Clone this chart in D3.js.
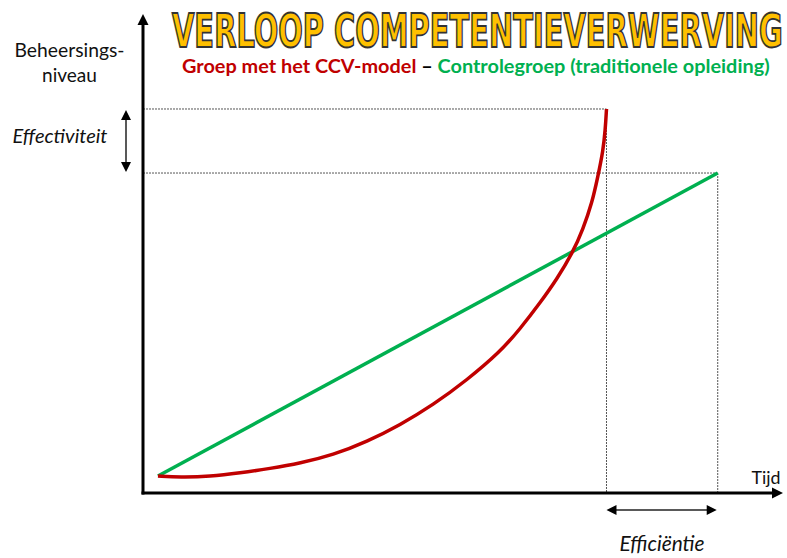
<!DOCTYPE html>
<html>
<head>
<meta charset="utf-8">
<script src="https://cdn.jsdelivr.net/npm/d3@7"></script>
<style>
  body { margin: 0; background: #fff; }
  svg { display: block; }
</style>
</head>
<body>
<div id="chart"></div>
<script>
// curve of the CCV group (tijd, beheersingsniveau) in % of the axis
var ccvTime  = [2.34, 5.78, 10.47, 15.16, 19.84, 24.53, 29.69, 35.0, 40.16, 45.31, 50.63, 55.78, 58.91,
                62.03, 64.69, 67.19, 68.75, 70.16, 71.09, 71.88, 72.23, 72.42, 72.42];
var ccvLevel = [3.55, 3.28, 3.44, 4.18, 5.11, 6.20, 7.93, 10.71, 14.20, 18.37, 23.59, 29.44, 34.24,
                39.67, 44.68, 50.31, 55.11, 60.54, 66.18, 71.40, 75.78, 80.17, 80.17];
// straight line of the control group
var controlTime  = [2.34, 89.8];
var controlLevel = [3.55, 66.8];

var titleText = "VERLOOP COMPETENTIEVERWERVING";
var subtitleParts = [
  {text: "Groep met het CCV-model", color: "#C00000"},
  {text: " \u2013 ", color: "#000000"},
  {text: "Controlegroep (traditionele opleiding)", color: "#00B050"}
];

var W = 787, H = 558;
var red = "#C00000", green = "#00B050";
var font = "Lato, 'Open Sans', sans-serif";

var svg = d3.select("#chart").append("svg")
    .attr("width", W)
    .attr("height", H);

var x = d3.scaleLinear().domain([0, 100]).range([143, 783]);
var y = d3.scaleLinear().domain([0, 100]).range([493, 14]);

var ccv = ccvTime.map(function(t, i) { return [t, ccvLevel[i]]; });
var control = controlTime.map(function(t, i) { return [t, controlLevel[i]]; });
var ccvEnd = ccv[ccv.length - 1];
var controlEnd = control[control.length - 1];

// scale a text's font size so it takes the wanted width
function fit(t, target) {
  var w = t.node().getComputedTextLength();
  t.attr("font-size", +t.attr("font-size") * target / w);
  return t;
}

// dotted guide lines
var guides = [
  [[0, ccvEnd[1]], ccvEnd],
  [[0, controlEnd[1]], controlEnd],
  [ccvEnd, [ccvEnd[0], 0]],
  [controlEnd, [controlEnd[0], 0]]
];
svg.append("g").selectAll("line")
  .data(guides)
  .enter().append("line")
    .attr("x1", function(d) { return x(d[0][0]); })
    .attr("y1", function(d) { return y(d[0][1]); })
    .attr("x2", function(d) { return x(d[1][0]); })
    .attr("y2", function(d) { return y(d[1][1]); })
    .attr("stroke", "#555")
    .attr("stroke-width", 1)
    .attr("stroke-dasharray", "2,1");

// axes with arrowheads
var axisG = svg.append("g");
axisG.append("line")
    .attr("x1", x(0)).attr("y1", y(0) + 1.5)
    .attr("x2", x(0)).attr("y2", y(100) + 9)
    .attr("stroke", "#000").attr("stroke-width", 3);
axisG.append("line")
    .attr("x1", x(0) - 1.5).attr("y1", y(0))
    .attr("x2", x(100) - 9).attr("y2", y(0))
    .attr("stroke", "#000").attr("stroke-width", 3);
axisG.append("path")
    .attr("d", "M" + x(0) + "," + y(100) + "l5.5,11h-11z")
    .attr("fill", "#000");
axisG.append("path")
    .attr("d", "M" + x(100) + "," + y(0) + "l-11,-5.5v11z")
    .attr("fill", "#000");

// curves
var line = d3.line()
    .x(function(d) { return x(d[0]); })
    .y(function(d) { return y(d[1]); });

svg.append("path")
    .datum(control)
    .attr("d", line)
    .attr("fill", "none")
    .attr("stroke", green)
    .attr("stroke-width", 3.5);

svg.append("path")
    .datum(ccv)
    .attr("d", line.curve(d3.curveBasis))
    .attr("fill", "none")
    .attr("stroke", red)
    .attr("stroke-width", 3.5);

// double arrows (effectiviteit / efficientie)
var ax = x(0) - 17, ay1 = y(ccvEnd[1]) + 1, ay2 = y(controlEnd[1]) - 1;
svg.append("line")
    .attr("x1", ax).attr("y1", ay1 + 8)
    .attr("x2", ax).attr("y2", ay2 - 8)
    .attr("stroke", "#222").attr("stroke-width", 1.5);
svg.append("path")
    .attr("d", "M" + ax + "," + ay1 + "l5,10h-10z M" + ax + "," + ay2 + "l5,-10h-10z")
    .attr("fill", "#000");

var by = y(0) + 17, bx1 = x(ccvEnd[0]), bx2 = x(controlEnd[0]) - 1;
svg.append("line")
    .attr("x1", bx1 + 8).attr("y1", by)
    .attr("x2", bx2 - 8).attr("y2", by)
    .attr("stroke", "#222").attr("stroke-width", 1.5);
svg.append("path")
    .attr("d", "M" + bx1 + "," + by + "l10,-5v10z M" + bx2 + "," + by + "l-10,-5v10z")
    .attr("fill", "#000");

// labels
function label(tx, ty, txt, width, italic) {
  var t = svg.append("text")
      .attr("x", tx).attr("y", ty)
      .attr("text-anchor", "middle")
      .attr("font-family", font).attr("font-size", 17)
      .attr("font-style", italic ? "italic" : "normal")
      .attr("fill", "#111")
      .text(txt);
  return fit(t, width);
}
label(69.5, 57, "Beheersings-", 110);
label(69.5, 82, "niveau", 55);
label(60, 143, "Effectiviteit", 95, true);
label(766, 484, "Tijd", 29);
label(662, 551, "Efficiëntie", 85, true);

// title, squeezed horizontally to the width of the original
var title = svg.append("text")
    .attr("x", 0).attr("y", 0)
    .attr("font-family", "'Liberation Sans Narrow', 'DejaVu Sans Condensed', sans-serif")
    .attr("font-weight", "bold")
    .attr("font-size", 47)
    .attr("fill", "#FFC000")
    .attr("stroke", "#333")
    .attr("stroke-width", 1.8)
    .text(titleText);
var tw = title.node().getComputedTextLength();
title.attr("transform", "translate(172,47) scale(" + (611 / tw) + ",1)");

// subtitle in three colours
var sub = svg.append("g");
var parts = sub.selectAll("text")
  .data(subtitleParts)
  .enter().append("text")
    .attr("y", 73)
    .attr("font-family", font)
    .attr("font-weight", "bold")
    .attr("font-size", 18)
    .attr("fill", function(d) { return d.color; })
    .attr("xml:space", "preserve")
    .style("white-space", "pre")
    .text(function(d) { return d.text; });
var total = 0;
parts.each(function() { total += this.getComputedTextLength(); });
var subSize = 18 * 588 / total;
parts.attr("font-size", subSize);
var cx = 182;
parts.each(function() {
  d3.select(this).attr("x", cx);
  cx += this.getComputedTextLength();
});
</script>
</body>
</html>
